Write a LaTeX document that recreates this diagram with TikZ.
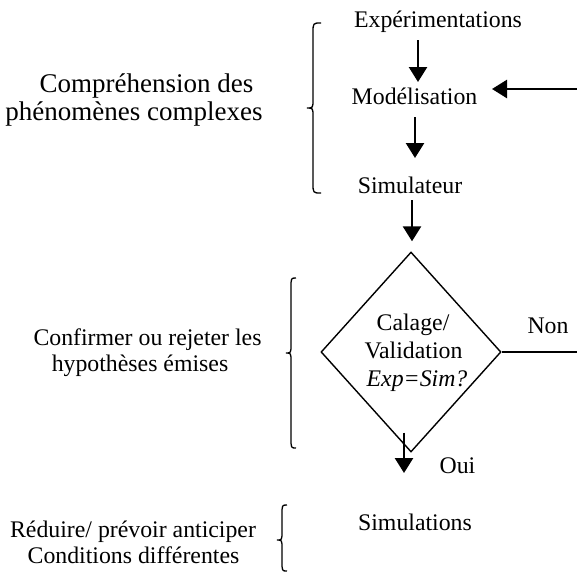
\documentclass[tikz,border=0pt]{standalone}
\usepackage{fontspec}
\setmainfont{Liberation Serif}
\usetikzlibrary{arrows.meta,shapes.geometric}
\newcommand\mybrace[6]{\draw[brc] ({#1},{#4}) .. controls ({#2},{#4}) .. ({#2},{#4+10}) -- ({#2},{#5-9}) .. controls ({#2},{#5}) .. ({#3},{#5}) .. controls ({#2},{#5}) .. ({#2},{#5+9}) -- ({#2},{#6-10}) .. controls ({#2},{#6}) .. ({#1},{#6});}
\begin{document}
\begin{tikzpicture}[x=1pt,y=-1pt,
  txt/.style={anchor=base,inner sep=0pt,font=\fontsize{23.8pt}{28pt}\selectfont},
  bigtxt/.style={txt,font=\fontsize{27pt}{30pt}\selectfont},
  arr/.style={line width=2.6pt,-{Triangle[length=15pt,width=18pt]}},
  thinline/.style={line width=1.4pt},
  brc/.style={line width=1.3pt}]
\useasboundingbox (0,0) rectangle (577,573);
% flow texts
\node[txt] (exp) at (438,27) {Expérimentations};
\node[txt] (mod) at (414.5,104) {Modélisation};
\node[txt] (simr) at (410,193) {Simulateur};
\node[draw,thinline,diamond,minimum width=180pt,minimum height=200pt,inner sep=0pt] (dia) at (411,352) {};
\node[txt] (cal1) at (413,330) {Calage/};
\node[txt] (cal2) at (413.5,358) {Validation};
\node[txt] (cal3) at (417,386) {\textit{Exp=Sim?}};
\node[txt] (non) at (548,333) {Non};
\node[txt] (oui) at (457.5,473) {Oui};
\node[txt] (sims) at (415,530) {Simulations};
% left texts
\node[bigtxt] (comp1) at (146.5,92) {Compréhension des};
\node[bigtxt] (comp2) at (134,120) {phénomènes complexes};
\node[txt] (conf1) at (147.5,345) {Confirmer ou rejeter les};
\node[txt] (conf2) at (140,371) {hypothèses émises};
\node[txt] (red1) at (133,537) {Réduire/ prévoir anticiper};
\node[txt] (red2) at (133.5,563) {Conditions différentes};
% coordinates
\coordinate (rin) at (577,89);
\coordinate (nonend) at (577,352);
\coordinate (ouiend) at (404,473);
% connectors
\draw[arr] ([xshift=-20pt,yshift=-13pt]exp.base) -- ([xshift=3.5pt,yshift=22pt]mod.base);
\draw[arr] ([xshift=0.5pt,yshift=-13pt]mod.base) -- ([xshift=5pt,yshift=35pt]simr.base);
\draw[arr] ([xshift=2pt,yshift=-7pt]simr.base) -- ([xshift=1pt,yshift=10pt]dia.north);
\draw[arr] (rin) -- ([xshift=77.5pt,yshift=15pt]mod.base);
\draw[thinline] (dia.east) -- (nonend);
\draw[arr] ([xshift=-7pt,yshift=20pt]dia.south) -- (ouiend);
% braces
\mybrace{321}{313}{307}{23}{108}{193}
\mybrace{296}{291}{286}{278}{353}{448}
\mybrace{287}{282}{277}{505}{540}{571}
\end{tikzpicture}
\end{document}
